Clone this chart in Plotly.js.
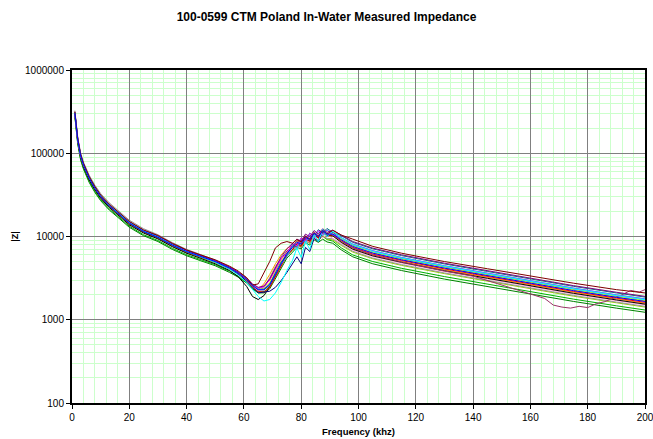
<!DOCTYPE html>
<html>
<head>
<meta charset="utf-8">
<script src="https://cdn.plot.ly/plotly-3.0.1.min.js"></script>
<style>html,body{margin:0;padding:0;background:#fff;}#chart{width:653px;height:439px;}</style>
</head>
<body>
<div id="chart"></div>
<script>
// Frequencies (kHz) shared by most sweeps
const freq = [1,1.5,2,3,4,6,8,10,13,16,20,25,30,35,40,45,50,55,58,61,63,65,67,69,71,73,75,77,78.5,80,81.5,83,84.5,86,87.5,89,91,94,98,105,115,130,145,160,175,190,200];
// Frequencies for the sweep with the dip near 170 kHz
const freqMauve = [1,1.5,2,3,4,6,8,10,13,16,20,25,30,35,40,45,50,55,58,61,63,65,67,69,71,73,75,77,78.5,80,81.5,83,84.5,86,87.5,89,91,94,98,105,115,130,140,150,155,160,165,168,171,174,177,180,183,186,189,192,195,198,200];

// |Z| (ohm) for each measured unit
const zBlue    = [302000,200000,145000,93300,72400,50100,38000,30200,23400,19100,14500,11500,9800,7900,6600,5750,5000,4170,3630,3020,2570,2290,2290,2630,3550,4790,6310,7410,8510,8130,9770,9120,10960,10000,11750,10700,10700,9120,7590,6310,5250,4170,3390,2750,2240,1860,1660];
const zBlack   = [290000,191000,138000,89000,69000,47800,36300,28800,22300,18200,13800,11000,9350,7550,6300,5450,4700,3900,3300,2500,1900,1750,1950,2500,3400,4600,6000,7000,8200,7800,9400,8800,10500,9600,11300,10300,10200,8500,7050,5850,4900,3880,3150,2560,2080,1730,1540];
const zGreen   = [275000,178000,129000,83000,64500,44600,33800,26900,20800,17000,12900,10200,8700,7000,5870,5100,4450,3700,3250,2750,2350,2100,2100,2350,3100,4200,5500,6500,7400,7100,8400,7900,9100,8500,9300,8600,8300,6900,5700,4700,3900,3080,2500,2030,1660,1380,1230];
const zGreen2  = [280000,182000,132000,85500,66300,45900,34800,27700,21400,17500,13300,10500,8950,7220,6040,5260,4580,3820,3330,2800,2380,2150,2180,2500,3300,4500,5900,6900,7900,7500,8900,8300,9800,8900,10100,9200,8800,7300,6000,5000,4150,3300,2680,2170,1770,1470,1310];
const zMaroon  = [316000,209000,152000,97700,75800,52500,39800,31600,24500,20000,15200,12000,10300,8300,6900,6000,5250,4400,3850,3200,2600,2700,3600,5000,7300,8300,8700,8300,9200,8600,10000,9300,10900,10000,11800,10700,11900,10400,9300,7600,6300,5000,4100,3350,2750,2300,2100];
const zMauve   = [308000,204000,148000,95000,73800,51100,38700,30800,23900,19500,14800,11700,10000,8050,6700,5850,5100,4250,3700,3100,2650,2400,2500,3000,4100,5400,6700,7600,8900,8300,10200,9400,11300,10200,12000,10800,10500,8800,7300,6000,4950,3850,3350,2600,2300,2050,1800,1500,1420,1380,1450,1400,1560,1650,1800,2000,2250,2150,2300];
const zCyan    = [306000,203000,147000,94500,73500,50800,38500,30600,23700,19300,14700,11600,9900,7950,6600,5700,4900,4050,3450,2800,2300,1900,1680,1750,2100,2800,3900,5200,7300,5600,8800,7000,10600,8700,12200,10000,11500,9600,7950,6600,5500,4370,3550,2880,2350,1950,1740];
const zMagenta = [304000,202000,147000,94500,73400,50800,38500,30600,23700,19400,14700,11700,9950,8000,6700,5800,5050,4200,3650,3050,2650,2400,2500,3000,4100,5400,6300,8300,7700,9600,8900,10900,9900,11800,10700,12000,10700,9700,8100,6750,5600,4450,3630,2940,2400,1990,1780];
const zYellow  = [300000,199000,145000,93500,72600,50300,38100,30300,23500,19200,14600,11600,9850,7950,6650,5780,5020,4180,3620,3000,2560,2300,2350,2800,3800,5100,6500,7700,8700,8200,10100,9300,11300,10200,12000,10900,10900,9300,7750,6450,5350,4250,3450,2800,2290,1900,1700];
const zGray    = [325000,216000,157000,101000,78500,54500,41300,32800,25400,20700,15700,12400,10500,8450,7000,6050,5200,4300,3700,3050,2600,2300,2400,3200,4400,5400,6300,7000,7800,7400,8800,8300,9800,9000,10300,9500,9400,8000,6650,5500,4600,3650,2960,2400,1960,1630,1450];
const zNavy    = [298000,198000,143000,92500,71800,49600,37600,29900,23200,18900,14400,11400,9700,7850,6550,5700,4950,4100,3550,2900,2450,2100,2150,2200,2450,2950,3700,4700,5700,4700,7400,6600,9500,8700,11200,10200,11300,9300,7800,6450,5400,4280,3470,2820,2300,1900,1700];
const zOrange  = [296000,196000,142000,91500,71000,49200,37300,29700,23000,18800,14300,11300,9650,7800,6500,5650,4920,4100,3580,2980,2560,2320,2700,3500,4700,6000,7200,7800,8900,8200,9800,9000,10800,9700,11300,10200,10200,8700,7250,6000,5000,3980,3230,2620,2140,1780,1580];
const zTeal    = [305000,202000,146000,94000,73000,50500,38300,30400,23600,19200,14600,11550,9850,7950,6650,5780,5030,4200,3660,3050,2600,2320,2330,2700,3650,4950,6000,8100,7500,9600,8800,11000,10000,12100,11000,12500,11200,10200,8500,7100,5900,4680,3800,3090,2520,2100,1870];
const zSky     = [310000,205000,149000,95800,74300,51400,39000,31000,24000,19600,14900,11800,10050,8100,6750,5850,5100,4250,3680,3080,2620,2330,2300,2600,3450,4650,5700,7700,7100,9200,8400,10400,9500,11400,10300,12000,10500,9700,8100,6750,5600,4450,3620,2940,2400,1990,1780];
const zPink    = [301000,199500,144500,93000,72200,50000,37900,30100,23300,19000,14450,11450,9750,7880,6580,5730,4980,4150,3600,2950,2500,2250,2300,2700,3700,4900,5800,7600,7000,8900,8100,9900,9000,10500,9600,10500,9500,8300,6900,5750,4800,3800,3090,2510,2040,1700,1510];
const zLime    = [292000,194000,140000,90500,70200,48600,36900,29300,22700,18500,14100,11150,9500,7650,6400,5570,4850,4050,3550,2980,2550,2280,2300,2600,3450,4600,5900,6900,7900,7500,8900,8300,9800,9000,10200,9300,9100,7800,6500,5400,4500,3580,2900,2360,1920,1600,1420];
const zPurple  = [312000,207000,150000,96500,74800,51800,39300,31200,24100,19700,15000,11850,10100,8150,6800,5900,5150,4300,3750,3150,2700,2450,2550,3100,4300,5700,7100,8200,9300,8800,10700,9900,11800,10700,12400,11200,11900,10400,8700,7250,6030,4780,3880,3150,2570,2140,1910];
const zRed     = [299000,198500,144000,92800,72000,49800,37800,30000,23300,19000,14400,11450,9750,7850,6550,5700,4960,4120,3560,2920,2450,2180,2150,2450,3250,4450,5900,7000,8200,7600,9400,8600,10500,9500,11300,10300,10500,8900,7400,6150,5150,4080,3310,2690,2190,1820,1620];

const yTickVals = [100,1000,10000,100000,1000000];
const yTickText = ['100','1000','10000','100000','1000000'];
const xTickVals = [0,20,40,60,80,100,120,140,160,180,200];

const series = [
  [freq, zGreen, '#008000'],
  [freq, zGreen2, '#00B000'],
  [freq, zLime, '#99CC00'],
  [freq, zGray, '#969696'],
  [freq, zPink, '#FF99CC'],
  [freq, zOrange, '#FF9900'],
  [freq, zBlack, '#000000'],
  [freq, zRed, '#FF0000'],
  [freq, zNavy, '#000080'],
  [freq, zYellow, '#FFFF00'],
  [freqMauve, zMauve, '#993366'],
  [freq, zTeal, '#008080'],
  [freq, zMagenta, '#FF00FF'],
  [freq, zSky, '#3399FF'],
  [freq, zPurple, '#800080'],
  [freq, zCyan, '#00FFFF'],
  [freq, zMaroon, '#800000'],
  [freq, zBlue, '#0000FF']
];

const traces = series.map(s => ({
  x: s[0], y: s[1], type: 'scatter', mode: 'lines',
  line: {color: s[2], width: 1}, showlegend: false, hoverinfo: 'skip'
}));

const font = 'Liberation Sans, Arial, sans-serif';
const layout = {
  width: 653, height: 439,
  margin: {l: 72, r: 8, t: 70, b: 36},
  paper_bgcolor: '#fff', plot_bgcolor: '#fff',
  font: {family: font, size: 10, color: '#000'},
  title: {text: '<b>100-0599 CTM Poland In-Water Measured Impedance</b>', x: 0.5, xanchor: 'center', y: 0.962, yanchor: 'middle', font: {family: font, size: 12, color: '#000'}},
  xaxis: {
    range: [0, 200], tickvals: xTickVals, ticks: 'outside', ticklen: 4, tickcolor: '#000',
    ticklabeloverflow: 'allow',
    showgrid: true, gridcolor: '#808080', gridwidth: 1,
    minor: {dtick: 4, tick0: 0, showgrid: true, gridcolor: '#CCFFCC', gridwidth: 1},
    showline: true, linecolor: '#000', linewidth: 2, mirror: true, zeroline: false,
    tickfont: {family: font, size: 10},
    title: {text: '<b>Frequency (khz)</b>', font: {family: font, size: 9.5}, standoff: 6}
  },
  yaxis: {
    type: 'log', range: [2, 6], tickvals: yTickVals, ticktext: yTickText,
    ticks: 'outside', ticklen: 4, tickcolor: '#000',
    showgrid: true, gridcolor: '#808080', gridwidth: 1,
    minor: {dtick: 'D1', showgrid: true, gridcolor: '#CCFFCC', gridwidth: 1},
    showline: true, linecolor: '#000', linewidth: 2, mirror: true, zeroline: false,
    tickfont: {family: font, size: 10},
    title: {text: '<b>|Z|</b>', font: {family: font, size: 9}, standoff: 5}
  }
};

Plotly.newPlot('chart', traces, layout, {staticPlot: true, displayModeBar: false});
</script>
</body>
</html>
